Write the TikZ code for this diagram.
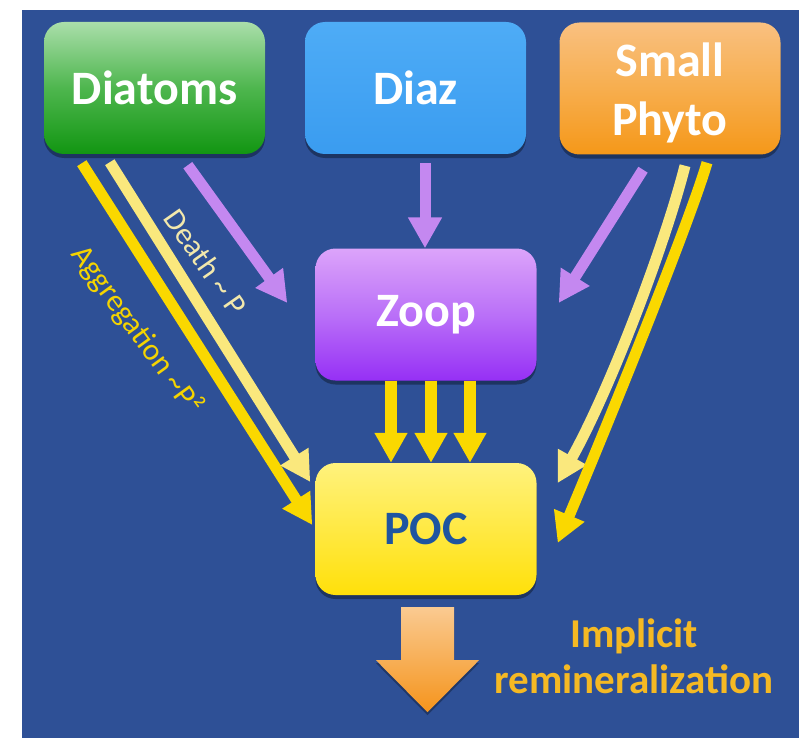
\documentclass[tikz,border=0pt]{standalone}
\usepackage{fontspec}
\setmainfont{Carlito}
\usetikzlibrary{arrows.meta,shadows,calc}

\definecolor{bg}{RGB}{46,80,150}
\definecolor{aggyellow}{RGB}{250,216,0}
\definecolor{deathyellow}{RGB}{250,232,125}
\definecolor{grazepurple}{RGB}{196,136,240}
\definecolor{deathtxt}{RGB}{242,232,172}
\definecolor{aggtxt}{RGB}{245,212,0}
\definecolor{poctxt}{RGB}{30,85,160}
\definecolor{remintxt}{RGB}{245,185,35}

\tikzset{
  box/.style={rounded corners=20pt, minimum width=221pt, minimum height=132pt,
    inner sep=0pt, align=center, text=white,
    font=\fontsize{48}{59}\selectfont\bfseries,
    drop shadow={shadow xshift=0pt, shadow yshift=-4pt, opacity=0.35, fill=black}},
  diatombox/.style={box, top color={rgb,255:red,170;green,222;blue,170},
    bottom color={rgb,255:red,18;green,150;blue,18},
    middle color={rgb,255:red,78;green,182;blue,78}},
  diazbox/.style={box, top color={rgb,255:red,78;green,172;blue,246},
    bottom color={rgb,255:red,58;green,156;blue,240}},
  smallbox/.style={box, top color={rgb,255:red,249;green,192;blue,128},
    bottom color={rgb,255:red,245;green,152;blue,25},
    middle color={rgb,255:red,247;green,174;blue,78}},
  zoopbox/.style={box, top color={rgb,255:red,220;green,164;blue,250},
    bottom color={rgb,255:red,150;green,48;blue,245},
    middle color={rgb,255:red,186;green,112;blue,248}},
  pocbox/.style={box, text=poctxt, top color={rgb,255:red,255;green,242;blue,125},
    bottom color={rgb,255:red,255;green,224;blue,10}},
  aggflow/.style={draw=aggyellow, line width=11pt,
    -{Triangle[width=31pt,length=30pt,fill=aggyellow]}},
  deathflow/.style={draw=deathyellow, line width=11pt,
    -{Triangle[width=31pt,length=30pt,fill=deathyellow]}},
  grazeflow/.style={draw=grazepurple, line width=11pt,
    -{Triangle[width=32pt,length=31pt,fill=grazepurple]}},
  eggflow/.style={draw=aggyellow, line width=12pt,
    -{Triangle[width=31pt,length=30pt,fill=aggyellow]}},
  ratelabel/.style={font=\fontsize{31}{33}\selectfont, inner sep=0pt}
}
% lower a line of box text without changing the box size
\newcommand{\lowerline}[1]{\raisebox{-4pt}[\height][\depth]{#1}}

\begin{document}
\begin{tikzpicture}[x=1pt, y=-1pt]
\useasboundingbox (0,0) rectangle (799,738);
\fill[bg] (21.5,10) rectangle (799,738);

% plankton groups
\node[diatombox] (dia)  at (154.5,88) {Diatoms};
\node[diazbox]   (diaz) at (415.5,88) {Diaz};
\node[smallbox]  (sp)   at (670,88.5) {\lowerline{Small}\\\lowerline{Phyto}};
\node[zoopbox]   (zoop) at (426,314.5) {Zoop};
\node[pocbox]    (poc)  at (426,529) {POC};

% diatom losses
\draw[aggflow]   ($(dia.south west)+(38,9)$)  -- ($(poc.west)+(-3,-4)$);
\draw[deathflow] ($(dia.south west)+(66,8)$)  -- ($(poc.west)+(-5,-47)$);
\draw[grazeflow] ($(dia.south west)+(144,11)$) -- ($(zoop.west)+(-28,-11.5)$);

% diazotroph grazing
\draw[grazeflow] ($(diaz.south)+(9.5,9)$) -- ($(zoop.north)+(-1,0)$);

% small phytoplankton losses
\draw[grazeflow] ($(sp.south)+(-27,15)$) -- ($(zoop.east)+(22,-11.5)$);
\draw[deathflow] ($(sp.south)+(15,11)$)
  .. controls ($(sp.south)+(-5,90)$) and ($(sp.south)+(-60,235)$)
  .. ($(poc.east)+(21,-46)$);
\draw[aggflow] ($(sp.south)+(37,8)$)
  .. controls ($(sp.south)+(22,60)$) and ($(sp.south)+(-50,240)$)
  .. ($(poc.east)+(21,14)$);

% zooplankton egestion to POC
\foreach \dx in {-35,5,44}
  \draw[eggflow] ($(zoop.south)+(\dx,0)$) -- ($(poc.north)+(\dx,0)$);

% export / remineralization arrow below POC
\begin{scope}[shift={(poc.south)}]
  \shade[top color={rgb,255:red,250;green,202;blue,145},
         bottom color={rgb,255:red,245;green,148;blue,28},
         drop shadow={shadow xshift=0pt, shadow yshift=-3pt, opacity=0.3, fill=black}]
    (-25,12) -- (28,12) -- (28,65) -- (53,65) -- (1.5,117) -- (-50,65) -- (-25,65) -- cycle;
\end{scope}

% process labels
\node[ratelabel, text=deathtxt, rotate=-55] (deathlbl) at (206,262) {Death \textasciitilde{} P};
\node[ratelabel, text=aggtxt, rotate=-54] (agglbl) at (137,330) {Aggregation \textasciitilde P²};
\node[align=center, inner sep=0pt, text=remintxt,
      font=\fontsize{41}{46}\selectfont\bfseries] (remin) at (634,656)
  {Implicit\\remineralization};
\end{tikzpicture}
\end{document}
